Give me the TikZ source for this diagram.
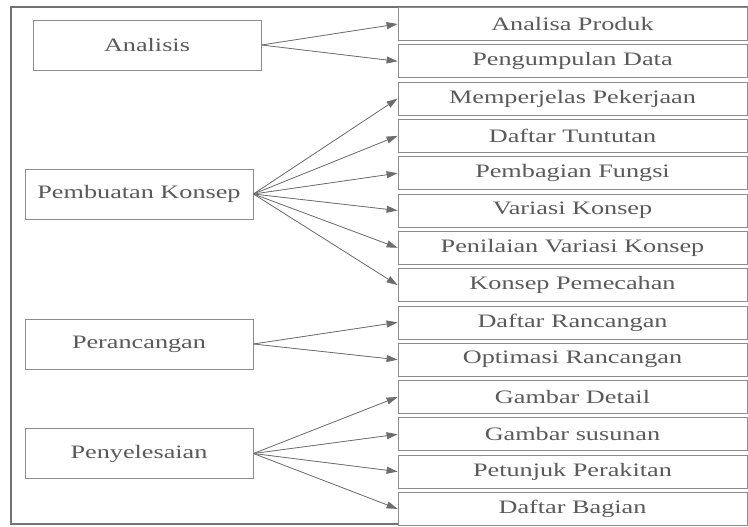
\documentclass[tikz,border=0pt]{standalone}
\usepackage{fontspec}
\usepackage{graphicx}
\setmainfont{Liberation Serif}
\usetikzlibrary{arrows.meta,positioning}
\definecolor{framegray}{HTML}{737373}
\definecolor{boxgray}{HTML}{8C8C8C}
\definecolor{textgray}{HTML}{5A5A5A}
\definecolor{arrowgray}{HTML}{6E6E6E}
\newcommand{\lebar}[1]{\scalebox{1.38}[1]{#1}}

\begin{document}
\begin{tikzpicture}[x=1pt,y=-1pt,>={Triangle[length=11pt,width=7pt]},
  tahap/.style={draw=boxgray,line width=0.8pt,fill=white,inner sep=0pt,minimum width=228pt,minimum height=50pt,text=textgray,font=\fontsize{19}{22}\selectfont},
  rinci/.style={tahap,minimum width=349pt,minimum height=33pt},
  panah/.style={->,draw=arrowgray,fill=arrowgray,line width=0.8pt}]
\useasboundingbox (0,0) rectangle (748,527);
% outer frame
\draw[framegray,line width=2.6pt] (748,7)--(11,7)--(11,524)--(748,524);
% main stages
\node[tahap] (analisis) at (147,45) {\lebar{Analisis}};
\node[tahap] (konsep) at (139,194) {\lebar{Pembuatan Konsep}};
\node[tahap] (rancang) at (139,344) {\lebar{Perancangan}};
\node[tahap] (selesai) at (139,453.5) {\lebar{Penyelesaian}};
% detail steps
\foreach \i/\n/\t in {0/r0/{Analisa Produk},1/r1/{Pengumpulan Data},2/r2/{Memperjelas Pekerjaan},3/r3/{Daftar Tuntutan},4/r4/{Pembagian Fungsi},5/r5/{Variasi Konsep},6/r6/{Penilaian Variasi Konsep},7/r7/{Konsep Pemecahan},8/r8/{Daftar Rancangan},9/r9/{Optimasi Rancangan},10/r10/{Gambar Detail},11/r11/{Gambar susunan},12/r12/{Petunjuk Perakitan},13/r13/{Daftar Bagian}}
  \node[rinci] (\n) at (572.5,24+37.3*\i) {\lebar{\t}};
% arrows
\foreach \a/\b in {analisis/r0,analisis/r1,konsep/r2,konsep/r3,konsep/r4,konsep/r5,konsep/r6,konsep/r7,rancang/r8,rancang/r9,selesai/r10,selesai/r11,selesai/r12,selesai/r13}
  \draw[panah] (\a.east)--(\b.west);
\end{tikzpicture}
\end{document}
